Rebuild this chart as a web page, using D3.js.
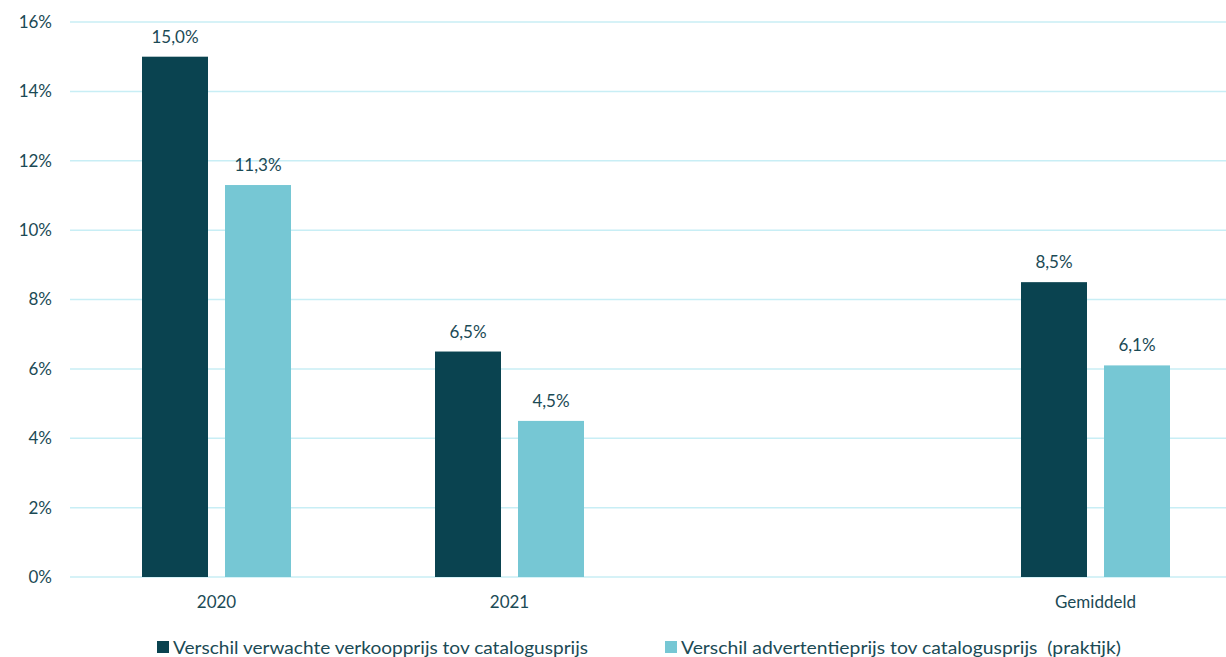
<!DOCTYPE html>
<html>
<head>
<meta charset="utf-8">
<script src="https://cdn.jsdelivr.net/npm/d3@7"></script>
<style>
  html, body { margin: 0; padding: 0; background: #ffffff; }
  svg { display: block; font-family: Lato, "Open Sans", sans-serif; }
</style>
</head>
<body>
<svg id="chart" width="1226" height="657"></svg>
<script>
// Categories (the empty slot leaves a gap before the average)
const categories = ["2020", "2021", "", "Gemiddeld"];
const seriesNames = [
  "Verschil verwachte verkoopprijs tov catalogusprijs",
  "Verschil advertentieprijs tov catalogusprijs  (praktijk)"
];
const expectedPrice = [15.0, 6.5, null, 8.5];
const advertPrice   = [11.3, 4.5, null, 6.1];
const yTicks = [0, 2, 4, 6, 8, 10, 12, 14, 16];

const colors = ["#0a4350", "#76c7d4"];
const textColor = "#1b4a55";
const gridColor = "#c8eef5";

const W = 1226, H = 657;
const margin = { left: 70, top: 22, bottom: 80 };
const svg = d3.select("#chart");

const x = d3.scaleBand().domain(categories).range([margin.left, margin.left + 4 * 293]);
const groupW = 149;
const x1 = d3.scaleBand().domain([0, 1])
  .range([(x.step() - groupW) / 2, (x.step() + groupW) / 2])
  .paddingInner(17 / 83);
const y = d3.scaleLinear().domain([0, 16]).range([577, 22]);

// Gridlines
svg.append("g").selectAll("line").data(yTicks).join("line")
  .attr("x1", margin.left).attr("x2", W)
  .attr("y1", d => y(d)).attr("y2", d => y(d))
  .attr("stroke", gridColor).attr("stroke-width", 1.5);

// Y axis labels
const yAxis = svg.append("g").attr("transform", `translate(${margin.left - 18},0)`)
  .call(d3.axisLeft(y).tickValues(yTicks).tickSize(0).tickFormat(d => d + "%"));
yAxis.select(".domain").remove();
yAxis.selectAll("text").attr("fill", textColor).attr("font-size", 17)
  .attr("font-family", "Lato, 'Open Sans', sans-serif").attr("x", 0);

// X axis labels
const xAxis = svg.append("g").attr("transform", `translate(0,${y(0)})`)
  .call(d3.axisBottom(x).tickSize(0).tickPadding(19));
xAxis.select(".domain").remove();
xAxis.selectAll("text").attr("fill", textColor).attr("font-size", 17)
  .attr("font-family", "Lato, 'Open Sans', sans-serif");

// Bars with value labels
const rows = categories.map((c, i) => ({ cat: c, vals: [expectedPrice[i], advertPrice[i]] }));
const fmt = v => d3.format(".1f")(v).replace(".", ",") + "%";

rows.forEach(r => {
  r.vals.forEach((v, s) => {
    if (v == null) return;
    const bx = x(r.cat) + x1(s);
    svg.append("rect")
      .attr("x", bx).attr("width", x1.bandwidth())
      .attr("y", y(v)).attr("height", y(0) - y(v))
      .attr("fill", colors[s]);
    svg.append("text")
      .attr("x", bx + x1.bandwidth() / 2).attr("y", y(v) - 14)
      .attr("text-anchor", "middle").attr("fill", textColor).attr("font-size", 17)
      .text(fmt(v));
  });
});

// Legend
const legendItems = [
  { sq: 157, tx: 173, len: 415 },
  { sq: 665, tx: 681, len: 440 }
];
legendItems.forEach((it, i) => {
  svg.append("rect").attr("x", it.sq).attr("y", 641).attr("width", 12).attr("height", 12)
    .attr("fill", colors[i]);
  svg.append("text").attr("x", it.tx).attr("y", 654)
    .attr("fill", textColor).attr("font-size", 18)
    .attr("textLength", it.len).attr("lengthAdjust", "spacingAndGlyphs")
    .attr("xml:space", "preserve")
    .text(seriesNames[i]);
});
</script>
</body>
</html>
